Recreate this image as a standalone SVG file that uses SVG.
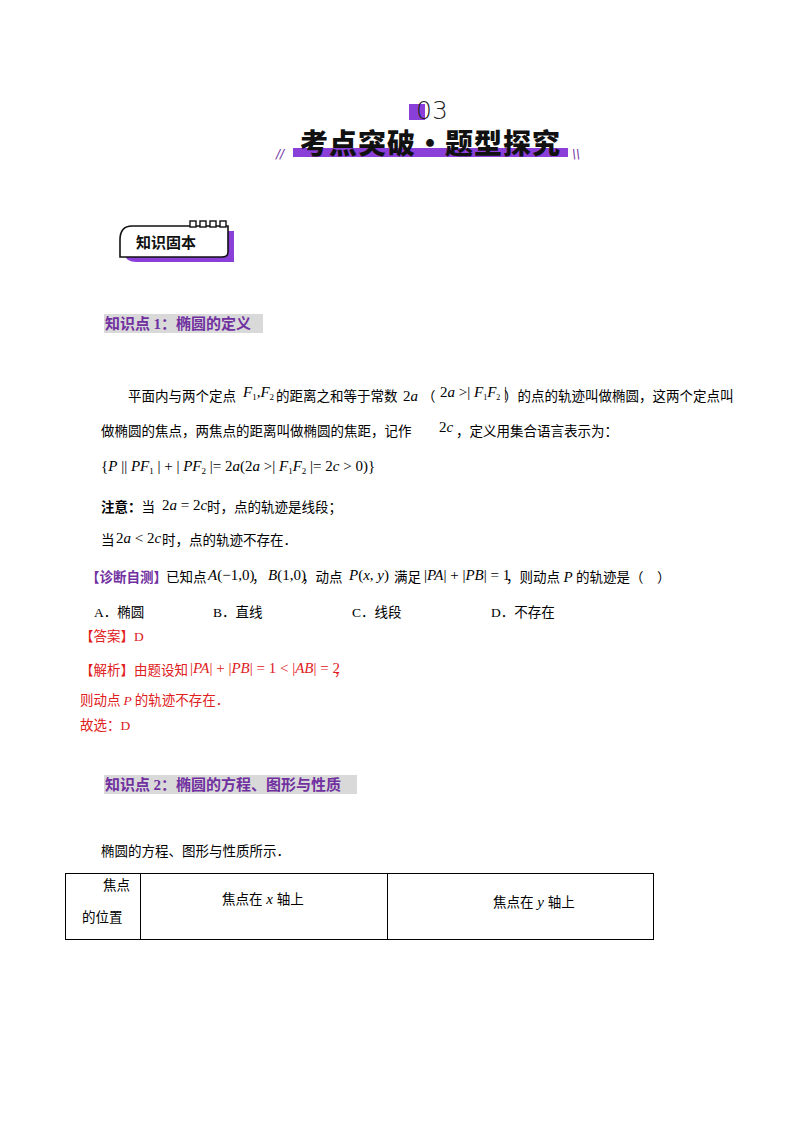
<svg xmlns="http://www.w3.org/2000/svg" width="800" height="1132" viewBox="0 0 800 1132">
<style>
.t{font-family:"Liberation Serif","Noto Sans CJK SC",serif;font-size:13.5px;fill:#000}
.m{font-family:"Liberation Serif",serif;font-style:italic;font-size:15px}
.n{font-family:"Liberation Serif",serif;font-style:normal}
.r{fill:#e02020}
.h{font-family:"Noto Sans CJK SC",sans-serif;font-weight:bold;font-size:15px;fill:#7030a0}
.red{font-family:"Noto Sans CJK SC",sans-serif;font-size:13.5px;fill:#e02020}
</style>
<rect width="800" height="1132" fill="#fff"/>
<g id="header">
<rect x="409" y="104" width="16" height="16" fill="#8b3fd9"/>
<text x="416" y="119" font-family="DejaVu Sans" font-size="25" font-weight="300" fill="#222">03</text>
<rect x="293" y="148" width="275" height="9" fill="#8b3fd9"/>
<text x="300" y="154" font-family="Noto Sans CJK SC,sans-serif" font-weight="900" font-size="28" fill="#111" letter-spacing="1">考点突破·题型探究</text>
<text x="276" y="158" font-family="DejaVu Sans" font-size="12" fill="#7030a0" font-style="italic">//</text>
<text x="572" y="158" font-family="DejaVu Sans" font-size="12" fill="#7030a0" font-style="italic">\\</text>
</g>
<g id="badge">
<path d="M128 231 H234 V262 H136 Q124 262 124 250 V244 Z" fill="#8b3fd9"/>
<path d="M132 226 H228 V252 Q228 257 222 257 H120 V240 Q120 226 132 226 Z" fill="#fff" stroke="#111" stroke-width="1.6"/>
<g fill="#fff" stroke="#111" stroke-width="1.4"><rect x="190" y="221" width="6" height="6"/><rect x="200" y="221" width="6" height="6"/><rect x="210" y="221" width="6" height="6"/><rect x="220" y="221" width="6" height="6"/></g>
<text x="136" y="248" font-family="Noto Sans CJK SC,sans-serif" font-weight="bold" font-size="15" fill="#111">知识固本</text>
</g>
<g id="kp1">
<rect x="104" y="314" width="159" height="19" fill="#d9d9d9"/>
<text x="105" y="329" class="h">知识点 <tspan class="n">1</tspan>：椭圆的定义</text>
</g>
<g id="body1">
<text x="128" y="401" class="t" font-size="14">平面内与两个定点</text>
<text x="243" y="397" class="m">F<tspan font-size="9" class="n" dy="3">1</tspan><tspan dy="-3">,F</tspan><tspan font-size="9" class="n" dy="3">2</tspan></text>
<text x="276" y="401" class="t" font-size="14">的距离之和等于常数</text>
<text x="403" y="401" class="m"><tspan class="n">2</tspan>a</text>
<text x="422" y="401" class="t">（</text>
<text x="440" y="397" class="m" font-size="12"><tspan class="n">2</tspan>a<tspan class="n"> &gt;| </tspan>F<tspan font-size="8" class="n" dy="3">1</tspan><tspan dy="-3">F</tspan><tspan font-size="8" class="n" dy="3">2</tspan><tspan dy="-3" class="n"> |</tspan></text>
<text x="504" y="401" class="t" font-size="14">）的点的轨迹叫做椭圆，这两个定点叫</text>
<text x="101" y="436" class="t" font-size="14">做椭圆的焦点，两焦点的距离叫做椭圆的焦距，记作</text>
<text x="439" y="432" class="m"><tspan class="n">2</tspan>c</text>
<text x="456" y="436" class="t" font-size="14">，定义用集合语言表示为：</text>
<text x="101" y="471" class="m"><tspan class="n">{</tspan>P<tspan class="n"> || </tspan>PF<tspan class="n" font-size="9" dy="3">1</tspan><tspan class="n" dy="-3"> | + | </tspan>PF<tspan class="n" font-size="9" dy="3">2</tspan><tspan class="n" dy="-3"> |= 2</tspan>a<tspan class="n">(2</tspan>a<tspan class="n"> &gt;| </tspan>F<tspan class="n" font-size="9" dy="3">1</tspan><tspan dy="-3">F</tspan><tspan class="n" font-size="9" dy="3">2</tspan><tspan class="n" dy="-3"> |= 2</tspan>c<tspan class="n"> &gt; 0)}</tspan></text>
<text x="101" y="512" class="t"><tspan font-weight="bold">注意：</tspan>当</text>
<text x="162" y="510" class="m"><tspan class="n">2</tspan>a<tspan class="n"> = 2</tspan>c</text>
<text x="207" y="512" class="t">时，点的轨迹是线段；</text>
<text x="101" y="545" class="t">当</text>
<text x="116" y="543" class="m"><tspan class="n">2</tspan>a<tspan class="n"> &lt; 2</tspan>c</text>
<text x="162" y="545" class="t">时，点的轨迹不存在．</text>
<text x="86" y="582" class="t"><tspan fill="#7030a0" font-weight="bold">【诊断自测】</tspan></text>
<text x="166" y="582" class="t">已知点</text>
<text x="208" y="580" class="m" font-size="14">A<tspan class="n">(−1,0)</tspan></text>
<text x="252" y="582" class="t">，</text>
<text x="268" y="580" class="m" font-size="14">B<tspan class="n">(1,0)</tspan></text>
<text x="302" y="582" class="t">，动点</text>
<text x="349" y="580" class="m" font-size="14">P<tspan class="n">(</tspan>x<tspan class="n">, </tspan>y<tspan class="n">)</tspan></text>
<text x="394" y="582" class="t">满足</text>
<text x="424" y="580" class="m" font-size="13.5"><tspan class="n">|</tspan>PA<tspan class="n">| + |</tspan>PB<tspan class="n">| = 1</tspan></text>
<text x="506" y="582" class="t">，则动点 <tspan class="m">P</tspan> 的轨迹是（　）</text>
<text x="94" y="617" class="t">A．椭圆</text>
<text x="213" y="617" class="t">B．直线</text>
<text x="352" y="617" class="t">C．线段</text>
<text x="491" y="617" class="t">D．不存在</text>
<text x="80" y="641" class="red">【答案】<tspan font-family="Liberation Serif">D</tspan></text>
<text x="80" y="675" class="red">【解析】由题设知</text>
<text x="190" y="673" class="m r" font-size="13.5"><tspan class="n">|</tspan>PA<tspan class="n">| + |</tspan>PB<tspan class="n">| = 1 &lt; |</tspan>AB<tspan class="n">| = 2</tspan></text>
<text x="334" y="675" class="red">，</text>
<text x="80" y="705" class="red">则动点 <tspan font-family="Liberation Serif" font-style="italic">P</tspan> 的轨迹不存在．</text>
<text x="80" y="730" class="red">故选：<tspan font-family="Liberation Serif">D</tspan></text>
</g>
<g id="kp2">
<rect x="104" y="775" width="253" height="19" fill="#d9d9d9"/>
<text x="105" y="790" class="h">知识点 <tspan class="n">2</tspan>：椭圆的方程、图形与性质</text>
<text x="101" y="856" class="t">椭圆的方程、图形与性质所示．</text>
</g>
<g id="table" stroke="#000" stroke-width="1" fill="none">
<rect x="65.5" y="873.5" width="588" height="66"/>
<line x1="140.5" y1="873.5" x2="140.5" y2="939.5"/>
<line x1="387.5" y1="873.5" x2="387.5" y2="939.5"/>
</g>
<g id="tabletext">
<text x="103" y="890" class="t">焦点</text>
<text x="82" y="922" class="t">的位置</text>
<text x="222" y="904" class="t">焦点在<tspan class="m"> x </tspan>轴上</text>
<text x="493" y="907" class="t">焦点在<tspan class="m"> y </tspan>轴上</text>
</g>
</svg>
